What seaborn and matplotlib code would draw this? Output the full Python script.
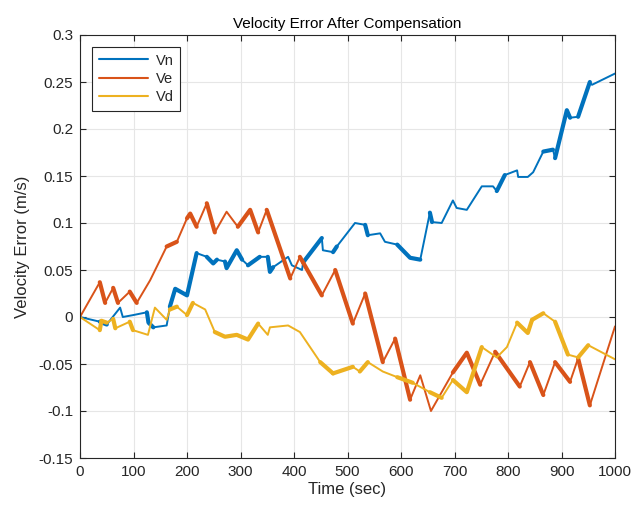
import numpy as np
import pandas as pd
import matplotlib
matplotlib.use("Agg")
import matplotlib.pyplot as plt
import seaborn as sns

# ---- data ----
vn_t = [0, 37, 50, 75, 80, 99, 125, 128, 137, 162, 168, 178, 200, 218, 237, 249, 256, 271, 274,
        293, 303, 314, 336, 351, 355, 361, 389, 396, 415, 417, 452, 454, 473, 480, 514, 533, 538,
        561, 570, 593, 617, 636, 654, 658, 676, 697, 704, 723, 751, 772, 779, 794, 817, 819, 837,
        847, 866, 884, 888, 910, 916, 931, 953, 957, 1000]
vn_v = [0.0, -0.005, -0.008, 0.010, 0.000, 0.002, 0.005, -0.006, -0.011, -0.009, 0.011, 0.030,
        0.023, 0.068, 0.064, 0.057, 0.061, 0.059, 0.052, 0.071, 0.061, 0.055, 0.064, 0.064, 0.048,
        0.053, 0.064, 0.055, 0.050, 0.058, 0.084, 0.071, 0.069, 0.075, 0.100, 0.098, 0.087, 0.089,
        0.080, 0.077, 0.063, 0.061, 0.111, 0.101, 0.100, 0.124, 0.116, 0.114, 0.139, 0.139, 0.134,
        0.151, 0.156, 0.149, 0.149, 0.154, 0.176, 0.178, 0.169, 0.220, 0.212, 0.213, 0.250, 0.247,
        0.259]

ve_t = [0, 37, 47, 62, 71, 93, 106, 131, 150, 162, 181, 200, 206, 218, 237, 252, 274, 295, 318,
        333, 349, 393, 411, 452, 477, 510, 533, 566, 589, 617, 636, 656, 697, 723, 748, 776, 822,
        841, 866, 888, 916, 931, 953, 1000]
ve_v = [0.0, 0.037, 0.015, 0.031, 0.015, 0.027, 0.015, 0.039, 0.061, 0.075, 0.080, 0.105, 0.110,
        0.096, 0.121, 0.090, 0.112, 0.096, 0.114, 0.090, 0.114, 0.041, 0.064, 0.023, 0.050, -0.007,
        0.025, -0.048, -0.023, -0.088, -0.062, -0.100, -0.059, -0.038, -0.072, -0.037, -0.074,
        -0.048, -0.083, -0.048, -0.069, -0.044, -0.094, -0.010]

vd_t = [0, 37, 40, 50, 62, 66, 93, 99, 127, 140, 162, 168, 181, 200, 211, 234, 252, 271, 293, 314,
        333, 351, 355, 389, 411, 449, 473, 510, 523, 538, 566, 593, 622, 654, 676, 697, 723, 751,
        779, 798, 817, 837, 845, 866, 888, 912, 931, 950, 1000]
vd_v = [0.0, -0.014, -0.004, -0.006, -0.002, -0.012, -0.005, -0.014, -0.019, 0.010, -0.003, 0.008,
        0.011, 0.002, 0.015, 0.008, -0.016, -0.021, -0.019, -0.024, -0.007, -0.019, -0.011, -0.009,
        -0.016, -0.048, -0.060, -0.053, -0.058, -0.048, -0.058, -0.064, -0.070, -0.080, -0.086,
        -0.067, -0.080, -0.032, -0.043, -0.032, -0.006, -0.017, -0.003, 0.004, -0.005, -0.040,
        -0.043, -0.030, -0.045]

# time windows where the signal oscillates densely (drawn as a thick band)
vn_noisy = [(37, 50), (125, 137), (168, 218), (237, 256), (271, 303), (314, 336), (351, 361),
            (417, 452), (473, 480), (533, 538), (593, 636), (654, 658), (779, 794), (866, 884),
            (888, 916), (931, 953)]
ve_noisy = [(37, 47), (62, 71), (93, 106), (162, 181), (200, 218), (237, 252), (295, 333),
            (349, 393), (411, 452), (477, 510), (533, 566), (589, 617), (697, 748), (776, 822),
            (841, 866), (888, 916), (931, 953)]
vd_noisy = [(37, 50), (62, 66), (93, 99), (168, 181), (200, 211), (252, 333), (449, 473),
            (473, 510), (523, 538), (593, 622), (654, 676), (697, 751), (817, 845), (845, 866),
            (888, 912), (931, 950)]

names = ["Vn", "Ve", "Vd"]
colors = ["#0072BD", "#D95319", "#EDB120"]

# ---- figure ----
sns.set_style("ticks")
plt.rcParams["font.family"] = ["Liberation Sans", "DejaVu Sans"]

fig = plt.figure(figsize=(6.35, 5.07), dpi=100)
ax = fig.add_axes([80 / 635, 1 - 458 / 507, 535 / 635, 423 / 507])

series = [(vn_t, vn_v, vn_noisy), (ve_t, ve_v, ve_noisy), (vd_t, vd_v, vd_noisy)]
for (t, v, noisy), name, c in zip(series, names, colors):
    df = pd.DataFrame({"t": t, "v": v})
    sns.lineplot(data=df, x="t", y="v", ax=ax, color=c, lw=1.4, label=name,
                 estimator=None, sort=False)
    for t0, t1 in noisy:
        seg = df[(df["t"] >= t0) & (df["t"] <= t1)]
        sns.lineplot(data=seg, x="t", y="v", ax=ax, color=c, lw=3.0,
                     estimator=None, sort=False, legend=False,
                     solid_capstyle="round", solid_joinstyle="round")

ax.set_xlim(0, 1000)
ax.set_ylim(-0.15, 0.3)
ax.set_xticks(np.arange(0, 1001, 100))
ax.set_yticks(np.round(np.arange(-0.15, 0.301, 0.05), 2))
ax.set_yticklabels(["-0.15", "-0.1", "-0.05", "0", "0.05", "0.1", "0.15", "0.2", "0.25", "0.3"])
ax.grid(True, color="#e6e6e6", lw=0.8)
ax.set_axisbelow(True)
for s in ax.spines.values():
    s.set_visible(True)
    s.set_color("#262626")
    s.set_linewidth(0.8)
ax.tick_params(direction="in", top=True, right=True, length=4, width=0.8,
               labelsize=11, colors="#262626", pad=5)
ax.set_xlabel("Time (sec)", fontsize=12, color="#262626", labelpad=2)
ax.set_ylabel("Velocity Error (m/s)", fontsize=12, color="#262626", labelpad=6)
ax.set_title("Velocity Error After Compensation", fontsize=11, color="#000000", pad=5)

leg = ax.legend(loc="upper left", bbox_to_anchor=(12 / 535, 1 - 12 / 423), fontsize=10.5,
                frameon=True, fancybox=False, edgecolor="#262626", framealpha=1,
                handlelength=3.4, borderpad=0.45, labelspacing=0.3, handletextpad=0.5,
                borderaxespad=0)
leg.get_frame().set_linewidth(0.8)
for line in leg.get_lines():
    line.set_linewidth(1.5)

fig.savefig("out.png", dpi=100)
